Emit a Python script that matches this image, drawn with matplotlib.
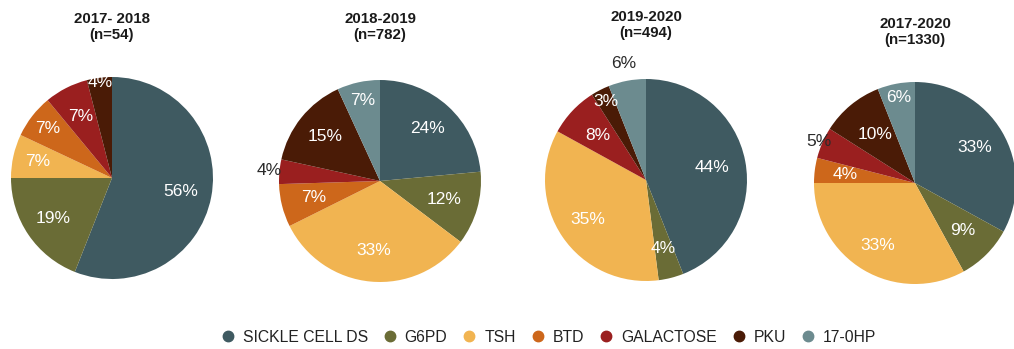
import matplotlib
matplotlib.use("Agg")
import matplotlib.pyplot as plt
from matplotlib.lines import Line2D
import numpy as np

plt.rcParams['font.family'] = ['Liberation Sans', 'DejaVu Sans']

categories = ["SICKLE CELL DS", "G6PD", "TSH", "BTD", "GALACTOSE", "PKU", "17-0HP"]
colors = ["#3f5a61", "#6a6c36", "#f1b451", "#cd671b", "#9a1f1f", "#4a1b06", "#6c8b8f"]

periods = ["2017- 2018", "2018-2019", "2019-2020", "2017-2020"]
sample_sizes = ["(n=54)", "(n=782)", "(n=494)", "(n=1330)"]

share_2017_2018 = [56, 19, 7, 7, 7, 4, 0]
share_2018_2019 = [24, 12, 33, 7, 4, 15, 7]
share_2019_2020 = [44, 4, 35, 0, 8, 3, 6]
share_2017_2020 = [33, 9, 33, 4, 5, 10, 6]
series = [share_2017_2018, share_2018_2019, share_2019_2020, share_2017_2020]

# pie centres (pixels) and radius
W, H = 1014, 349
centres = [(112, 178), (380, 181), (646, 180), (915, 183)]
title_y = [19, 19, 17, 24]
R = 101

# per-wedge label radius (fraction of pie radius); >1 places the label outside in dark text
label_r = [
    [0.69, 0.71, 0.75, 0.80, 0.68, 0.95, 0],
    [0.70, 0.66, 0.69, 0.68, 1.10, 0.70, 0.82],
    [0.67, 0.70, 0.70, 0, 0.65, 0.87, 1.17],
    [0.69, 0.67, 0.72, 0.70, 1.04, 0.62, 0.86],
]

fig = plt.figure(figsize=(W / 100, H / 100), dpi=100)
fig.patch.set_facecolor("white")

pad = 1.15
for k, vals in enumerate(series):
    cx, cy = centres[k]
    half = R * pad
    ax = fig.add_axes([(cx - half) / W, 1 - (cy + half) / H, 2 * half / W, 2 * half / H])
    wedges, _ = ax.pie(vals, colors=colors, startangle=90, counterclock=False,
                       radius=1.0, wedgeprops=dict(linewidth=0))
    ax.set_xlim(-pad, pad)
    ax.set_ylim(-pad, pad)
    ax.set_aspect("equal")
    ax.axis("off")
    for i, (w, v) in enumerate(zip(wedges, vals)):
        if v == 0:
            continue
        ang = np.deg2rad((w.theta1 + w.theta2) / 2)
        r = label_r[k][i]
        col = "#2a2a2a" if r > 1.0 else "white"
        ax.text(r * np.cos(ang), r * np.sin(ang), f"{v}%", ha="center", va="center",
                fontsize=12.5, color=col, clip_on=False)
    tx = cx / W
    fig.text(tx, 1 - title_y[k] / H, periods[k], ha="center", va="center", fontsize=10.8,
             fontweight="bold", color="#1a1a1a")
    fig.text(tx, 1 - (title_y[k] + 16) / H, sample_sizes[k], ha="center", va="center",
             fontsize=10.8, fontweight="bold", color="#1a1a1a")

handles = [Line2D([0], [0], marker="o", linestyle="", markersize=7.5,
                  markerfacecolor=c, markeredgecolor=c) for c in colors]
fig.legend(handles, categories, loc="center", bbox_to_anchor=(548 / W, 1 - 337 / H),
           ncol=len(categories), frameon=False, fontsize=11.3, handletextpad=0.45,
           columnspacing=0.9, handlelength=1.0, labelcolor="#222222")

fig.savefig("out.png", dpi=100, facecolor="white")
